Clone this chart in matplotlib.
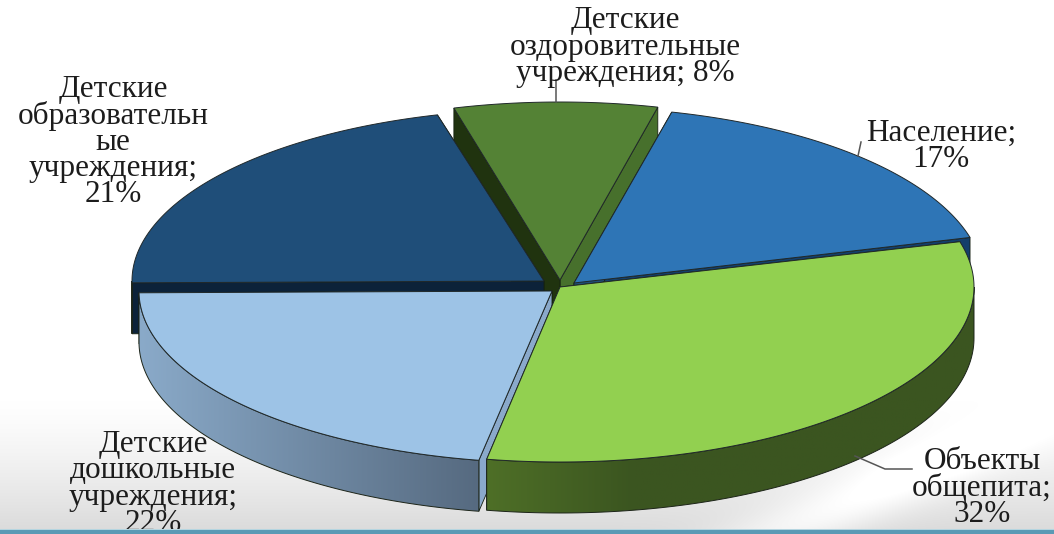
#!/usr/bin/env python3
"""Exploded 3D-style pie: sources of food-related exposure, with shaded walls."""

import numpy as np
import matplotlib
matplotlib.use("Agg")
import matplotlib.pyplot as plt
from matplotlib.patches import Polygon, Rectangle
from matplotlib.colors import LinearSegmentedColormap

W, H = 1054, 534

# values run clockwise, first slice starts at START_DEG
names = [
    "Население;",
    "Объекты\nобщепита;",
    "Детские\nдошкольные\nучреждения;",
    "Детские\nобразовательн\nые\nучреждения;",
    "Детские\nоздоровительные\nучреждения;",
]
values = [17, 32, 22, 21, 8]
joiners = ["\n", "\n", "\n", "\n", " "]

top_colors = ["#2e75b6", "#92d050", "#9dc3e6", "#1f4e79", "#548235"]
start_wall = ["#1f4e79", "#3a5220", "#8aa9cb", "#0c2239", "#20330f"]
end_wall = ["#143f6b", "#3a5220", "#88a8ca", "#0c2239", "#47702c"]
side_left = ["#1f4e79", "#4e6f27", "#8aaac9", "#0c2239", "#3a5220"]
side_right = ["#1f4e79", "#3b5520", "#566a80", "#0c2239", "#3a5220"]
side_knee = [1.0, 0.3, 1.0, 1.0, 1.0]

START_DEG = 76.2
DEPTH = 51
# slice apex and radii in pixels, one per slice
apex = [(574, 283), (560, 287), (552, 291), (544, 281), (560, 280)]
radii = [(410, 176), (414, 175), (413, 172), (412, 172), (410, 178)]
draw_order = [4, 0, 3, 2, 1]

label_pos = [(941, 146), (982, 488), (153, 484), (113, 142), (625, 47)]
leaders = [
    [(861, 142), (858, 156)],
    [(855, 456), (885, 469), (912, 469)],
    [(556, 80), (556, 102)],
]

plt.rcParams["font.family"] = ["Liberation Serif", "DejaVu Serif"]
fig = plt.figure(figsize=(W / 100, H / 100), dpi=100)
ax = fig.add_axes([0, 0, 1, 1])
ax.set_xlim(0, W)
ax.set_ylim(H, 0)
ax.axis("off")

# slide background: white fading to grey at the foot, lighter swoosh at lower right
yy, xx = np.mgrid[0:H, 0:W]
bg = 255 - 36 * np.clip((yy - 400) / 130, 0, 1) ** 1.3
band = np.abs((yy - 534) + (xx - 780) * 0.42 + (xx - 780) ** 2 * 0.0002)
bg = bg + 26 * np.exp(-(band / 32.0) ** 2) * np.clip((yy - 400) / 60, 0, 1)
bg = np.clip(bg, 0, 255)
ax.imshow(np.dstack([bg, bg, bg]) / 255, extent=(0, W, H, 0), aspect="auto",
          zorder=0, interpolation="nearest")

# teal footer strip sits over everything, the lowest label runs under it
ax.add_patch(Rectangle((0, 530), W, 4, fc="#5b9ab5", ec="none", zorder=30))
ax.add_patch(Rectangle((0, 529), W, 1, fc="#b5d5e0", ec="none", zorder=30))


def rim(center, radius, deg, drop=0):
    rad = np.radians(deg)
    return np.column_stack([center[0] + radius[0] * np.cos(rad),
                            center[1] - radius[1] * np.sin(rad) + drop])


def wall(center, radius, deg, color, z):
    tip = rim(center, radius, np.array([deg]))[0]
    pts = [center, tip, (tip[0], tip[1] + DEPTH), (center[0], center[1] + DEPTH)]
    ax.add_patch(Polygon(pts, closed=True, fc=color, ec="#15200f", lw=0.6, zorder=z))


def outer_side(center, radius, a0, a1, left, right, knee, z):
    # only the front half of the rim shows, a1 < a0 clockwise
    lo, hi = max(a1, -180), min(a0, 0)
    if lo >= hi:
        return
    arc = np.linspace(hi, lo, 120)
    upper = rim(center, radius, arc)
    lower = rim(center, radius, arc, DEPTH)
    pts = np.vstack([upper, lower[::-1]])
    outline = Polygon(pts, closed=True, fc="none", ec="#1c2418", lw=0.7, zorder=z + 0.1)
    ax.add_patch(outline)
    x0, x1 = pts[:, 0].min(), pts[:, 0].max()
    y0, y1 = pts[:, 1].min(), pts[:, 1].max()
    stops = [(0, left), (knee, right)] + ([(1, right)] if knee < 1 else [])
    cmap = LinearSegmentedColormap.from_list("side", stops)
    grad = ax.imshow(np.linspace(0, 1, 256)[None, :], cmap=cmap, aspect="auto",
                     extent=(x0, x1, y1, y0), zorder=z)
    grad.set_clip_path(outline)


starts = START_DEG - 3.6 * np.concatenate([[0], np.cumsum(values)[:-1]])
ends = starts - 3.6 * np.array(values)

for rank, i in enumerate(draw_order):
    z = 2 + rank * 2
    a0, a1 = starts[i], ends[i]
    wall(apex[i], radii[i], a1, end_wall[i], z)
    wall(apex[i], radii[i], a0, start_wall[i], z)
    outer_side(apex[i], radii[i], a0, a1, side_left[i], side_right[i], side_knee[i], z)
    arc = rim(apex[i], radii[i], np.linspace(a0, a1, 160))
    ax.add_patch(Polygon(np.vstack([[apex[i]], arc]), closed=True, fc=top_colors[i],
                         ec="#20282a", lw=0.7, zorder=z + 0.5))

for seg in leaders:
    xs, ys = zip(*seg)
    ax.plot(xs, ys, color="#555555", lw=1.1, zorder=20)

for name, val, sep, pos in zip(names, values, joiners, label_pos):
    ax.text(pos[0], pos[1], f"{name}{sep}{val}%", ha="center", va="center",
            fontsize=22.5, linespacing=0.87, color="#1c1c1c", zorder=21)

fig.savefig("out.png", dpi=100)
